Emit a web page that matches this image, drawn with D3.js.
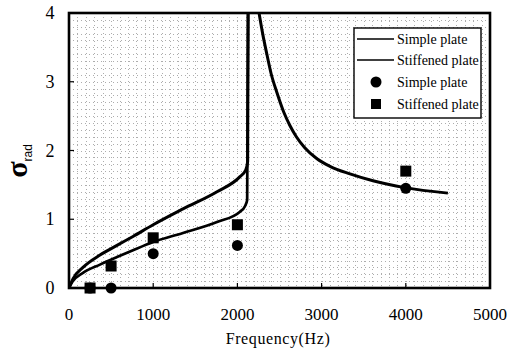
<!DOCTYPE html>
<html>
<head>
<meta charset="utf-8">
<script src="https://cdn.jsdelivr.net/npm/d3@7"></script>
<style>
  body { margin: 0; background: #fff; }
  svg { display: block; }
  .serif { font-family: 'Liberation Serif', 'DejaVu Serif', 'Times New Roman', serif; }
</style>
</head>
<body>
<div id="chart"></div>
<script>
// DATA
const xTicks = [0, 1000, 2000, 3000, 4000, 5000];
const yTicks = [0, 1, 2, 3, 4];

// theory, stiffened plate (upper curve below coincidence)
const stiffLineFreq = [0, 50, 166, 368, 570, 760, 1000, 1354, 1758, 2031, 2100, 2122, 2127];
const stiffLineSigma = [0, 0.14, 0.30, 0.48, 0.62, 0.75, 0.92, 1.15, 1.40, 1.62, 1.72, 1.84, 4];
// theory, simple plate (lower curve below coincidence)
const simpleLineFreq = [0, 40, 166, 368, 570, 760, 1000, 1354, 1758, 2031, 2090, 2116, 2127];
const simpleLineSigma = [0, 0.09, 0.22, 0.34, 0.45, 0.55, 0.67, 0.80, 0.96, 1.11, 1.19, 1.28, 4];
// above coincidence (common branch)
const upperFreq = [2257, 2300, 2350, 2400, 2470, 2550, 2625, 2700, 2800, 2945, 3100, 3337, 3610, 3990, 4500];
const upperSigma = [4.0, 3.7, 3.40, 3.12, 2.84, 2.56, 2.36, 2.20, 2.04, 1.88, 1.77, 1.66, 1.56, 1.46, 1.38];

// measured points
const measFreq = [250, 500, 1000, 2000, 4000];
const simpleMeas = [0, 0, 0.5, 0.62, 1.45];
const stiffMeas = [0, 0.32, 0.73, 0.92, 1.7];

const legendLabels = ['Simple plate', 'Stiffened plate', 'Simple plate', 'Stiffened plate'];

// SETTINGS
const width = 509, height = 351;
const margin = { left: 69, right: 19, top: 13, bottom: 63 };
const innerW = width - margin.left - margin.right;
const innerH = height - margin.top - margin.bottom;

const svg = d3.select('#chart').append('svg')
    .attr('width', width)
    .attr('height', height);

const x = d3.scaleLinear().domain([0, 5000]).range([margin.left, margin.left + innerW]);
const y = d3.scaleLinear().domain([0, 4]).range([margin.top + innerH, margin.top]);

const defs = svg.append('defs');
defs.append('clipPath').attr('id', 'plot')
  .append('rect')
    .attr('x', margin.left).attr('y', margin.top)
    .attr('width', innerW).attr('height', innerH);

// dotted background grid
const grid = svg.append('g').attr('stroke', '#777').attr('stroke-width', 1)
    .attr('stroke-dasharray', '1,3').attr('opacity', 0.6);
grid.selectAll('.gx').data(d3.range(100, 5000, 100)).join('line')
    .attr('x1', d => Math.round(x(d)) + 0.5).attr('x2', d => Math.round(x(d)) + 0.5)
    .attr('y1', y(4)).attr('y2', y(0));
grid.selectAll('.gy').data(d3.range(0.1, 4, 0.1)).join('line')
    .attr('y1', d => Math.round(y(d)) + 0.5).attr('y2', d => Math.round(y(d)) + 0.5)
    .attr('x1', x(0)).attr('x2', x(5000));

// inward ticks
const ticks = svg.append('g').attr('stroke', '#000').attr('stroke-width', 1.2);
ticks.selectAll('.tx').data(xTicks).join('line')
    .attr('x1', d => x(d)).attr('x2', d => x(d))
    .attr('y1', y(0)).attr('y2', y(0) - 5);
ticks.selectAll('.ty').data(yTicks).join('line')
    .attr('y1', d => y(d)).attr('y2', d => y(d))
    .attr('x1', x(0)).attr('x2', x(0) + 5);

// curves
const line = d3.line()
    .x(d => x(d[0]))
    .y(d => y(d[1]))
    .curve(d3.curveMonotoneX);

const plot = svg.append('g').attr('clip-path', 'url(#plot)');
const curves = [
    { f: stiffLineFreq, s: stiffLineSigma, w: 3 },
    { f: simpleLineFreq, s: simpleLineSigma, w: 2.7 },
    { f: upperFreq, s: upperSigma, w: 3 }
];
plot.selectAll('path.curve').data(curves).join('path')
    .attr('class', 'curve')
    .attr('fill', 'none')
    .attr('stroke', '#000')
    .attr('stroke-width', d => d.w)
    .attr('stroke-linejoin', 'round')
    .attr('d', d => line(d.f.map((f, i) => [f, d.s[i]])));

// measured markers
svg.selectAll('circle.meas').data(measFreq).join('circle')
    .attr('class', 'meas')
    .attr('cx', d => x(d))
    .attr('cy', (d, i) => y(simpleMeas[i]))
    .attr('r', 5.5)
    .attr('fill', '#000');
svg.selectAll('rect.meas').data(measFreq).join('rect')
    .attr('class', 'meas')
    .attr('x', d => x(d) - 5.5)
    .attr('y', (d, i) => y(stiffMeas[i]) - 5.5)
    .attr('width', 11).attr('height', 11)
    .attr('fill', '#000');

// frame
svg.append('rect')
    .attr('x', margin.left).attr('y', margin.top)
    .attr('width', innerW).attr('height', innerH)
    .attr('fill', 'none').attr('stroke', '#000').attr('stroke-width', 2.6);

// tick labels
svg.selectAll('text.xl').data(xTicks).join('text')
    .attr('class', 'xl serif')
    .attr('x', d => x(d)).attr('y', 320)
    .attr('text-anchor', 'middle')
    .attr('font-size', 17)
    .text(d => d);
svg.selectAll('text.yl').data(yTicks).join('text')
    .attr('class', 'yl serif')
    .attr('x', 50).attr('y', d => y(d) + 6)
    .attr('text-anchor', 'middle')
    .attr('font-size', 18)
    .text(d => d);

// axis titles
svg.append('text')
    .attr('class', 'serif')
    .attr('x', 278).attr('y', 344)
    .attr('text-anchor', 'middle')
    .attr('font-size', 16)
    .attr('letter-spacing', 0.6)
    .text('Frequency(Hz)');

const yt = svg.append('text')
    .attr('class', 'serif')
    .attr('transform', 'translate(27,161) rotate(-90)')
    .attr('text-anchor', 'middle');
yt.append('tspan').attr('font-size', 30).attr('font-weight', 'bold').text('σ');
yt.append('tspan').attr('font-size', 12).attr('dy', 5)
    .style('font-family', "'Liberation Sans', 'DejaVu Sans', sans-serif").text('rad');

// legend
const lg = svg.append('g');
lg.append('rect')
    .attr('x', 354).attr('y', 28).attr('width', 127).attr('height', 90)
    .attr('fill', '#fff').attr('stroke', '#000').attr('stroke-width', 1.4);
const rowY = [39, 60, 82, 104];
lg.selectAll('line.lgl').data([0, 1]).join('line')
    .attr('class', 'lgl')
    .attr('x1', 357).attr('x2', 394)
    .attr('y1', d => rowY[d]).attr('y2', d => rowY[d])
    .attr('stroke', '#000').attr('stroke-width', 1.3);
lg.append('circle').attr('cx', 376).attr('cy', rowY[2]).attr('r', 5.5).attr('fill', '#000');
lg.append('rect').attr('x', 371).attr('y', rowY[3] - 5).attr('width', 10).attr('height', 10).attr('fill', '#000');
lg.selectAll('text.lgt').data(legendLabels).join('text')
    .attr('class', 'lgt serif')
    .attr('x', 397).attr('y', (d, i) => rowY[i] + 5)
    .attr('font-size', 14)
    .text(d => d);
</script>
</body>
</html>
